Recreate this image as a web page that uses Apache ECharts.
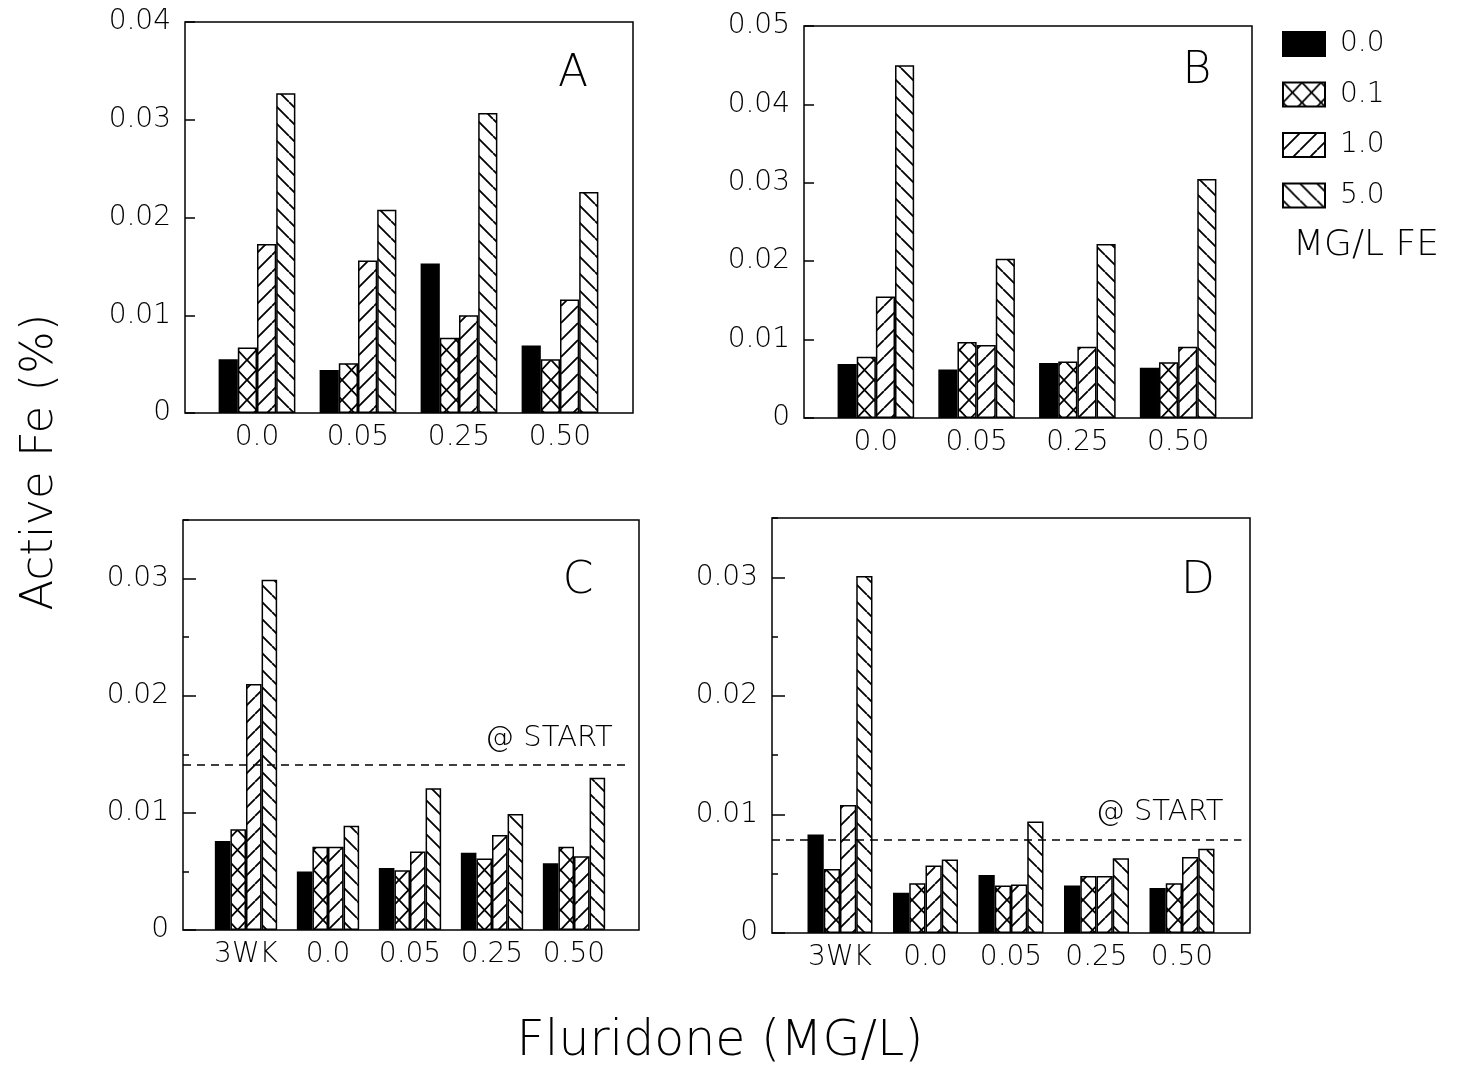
<!DOCTYPE html>
<html>
<head>
<meta charset="utf-8">
<script src="https://cdn.jsdelivr.net/npm/echarts@6/dist/echarts.min.js"></script>
<style>
html, body { margin: 0; background: #fff; }
#chart { width: 1460px; height: 1070px; }
</style>
</head>
<body>
<div id="chart"></div>
<script>
// fluridone treatments on the x axis
var fluridoneAB = ['0.0', '0.05', '0.25', '0.50'];
var fluridoneCD = ['3WK', '0.0', '0.05', '0.25', '0.50'];
// iron levels (MG/L FE), one series each
var feLevels = ['0.0', '0.1', '1.0', '5.0'];

// panel A
var a_fe00 = [0.0055, 0.0044, 0.0153, 0.0069];
var a_fe01 = [0.0067, 0.0051, 0.0077, 0.0055];
var a_fe10 = [0.0173, 0.0156, 0.0100, 0.0116];
var a_fe50 = [0.0327, 0.0208, 0.0307, 0.0226];
// panel B
var b_fe00 = [0.0069, 0.0062, 0.0070, 0.0064];
var b_fe01 = [0.0078, 0.0097, 0.0072, 0.0071];
var b_fe10 = [0.0155, 0.0093, 0.0091, 0.0091];
var b_fe50 = [0.0450, 0.0203, 0.0222, 0.0305];
// panel C
var c_fe00 = [0.0076, 0.0050, 0.0053, 0.0066, 0.0057];
var c_fe01 = [0.0086, 0.0071, 0.0051, 0.0061, 0.0071];
var c_fe10 = [0.0210, 0.0071, 0.0067, 0.0081, 0.0063];
var c_fe50 = [0.0299, 0.0089, 0.0121, 0.0099, 0.0130];
var c_start = 0.0141;
// panel D
var d_fe00 = [0.0083, 0.0034, 0.0049, 0.0040, 0.0038];
var d_fe01 = [0.0054, 0.0042, 0.0040, 0.0048, 0.0042];
var d_fe10 = [0.0108, 0.0057, 0.0041, 0.0048, 0.0064];
var d_fe50 = [0.0301, 0.0062, 0.0094, 0.0063, 0.0071];
var d_start = 0.0079;

var FONT = 'DejaVu Sans';

function hatch(kind) {
    var c = document.createElement('canvas');
    var w = kind === 'cross' ? 19 : 17;
    var h = kind === 'cross' ? 20 : 17;
    c.width = w; c.height = h;
    var g = c.getContext('2d');
    g.fillStyle = '#fff';
    g.fillRect(0, 0, w, h);
    g.strokeStyle = '#000';
    g.lineWidth = 1.8;
    g.beginPath();
    for (var k = -1; k <= 1; k++) {
        if (kind === 'fwd' || kind === 'cross') { g.moveTo(k * w, h); g.lineTo(k * w + w, 0); }
        if (kind === 'back' || kind === 'cross') { g.moveTo(k * w, 0); g.lineTo(k * w + w, h); }
    }
    g.stroke();
    return { image: c, repeat: 'repeat' };
}
var fills = ['#000', hatch('cross'), hatch('fwd'), hatch('back')];

var panels = [
    { letter: 'A', cats: fluridoneAB, vals: [a_fe00, a_fe01, a_fe10, a_fe50], max: 0.04,
      frame: [185, 22, 448, 391], inner: [206.5, 404], minor: false, tick: 10, pos: [573, 75] },
    { letter: 'B', cats: fluridoneAB, vals: [b_fe00, b_fe01, b_fe10, b_fe50], max: 0.05,
      frame: [804, 26, 448, 392], inner: [825.5, 403], minor: false, tick: 10, pos: [1197, 72] },
    { letter: 'C', cats: fluridoneCD, vals: [c_fe00, c_fe01, c_fe10, c_fe50], max: 0.035, start: c_start,
      frame: [183, 520, 456, 410], inner: [205, 410], minor: true, tick: 13, pos: [578, 582] },
    { letter: 'D', cats: fluridoneCD, vals: [d_fe00, d_fe01, d_fe10, d_fe50], max: 0.035, start: d_start,
      frame: [772, 518, 478, 415], inner: [797.25, 427.5], minor: true, tick: 13, pos: [1198, 582] }
];

var grids = [], xAxes = [], yAxes = [], series = [], graphics = [];

panels.forEach(function (p) {
    var og = grids.length;
    grids.push({ left: p.frame[0], top: p.frame[1], width: p.frame[2], height: p.frame[3],
                 show: true, borderColor: '#000', borderWidth: 1.5, backgroundColor: 'transparent' });
    grids.push({ left: p.inner[0], top: p.frame[1], width: p.inner[1], height: p.frame[3] });

    var ox = xAxes.length;
    xAxes.push({ type: 'value', gridIndex: og, min: 0, max: 1, show: false });
    var ix = xAxes.length;
    xAxes.push({
        type: 'category', gridIndex: og + 1, data: p.cats,
        axisLine: { show: false }, axisTick: { show: false },
        axisLabel: { interval: 0, color: '#000', fontFamily: FONT, fontWeight: 200, fontSize: 28, margin: 11 }
    });

    var oy = yAxes.length;
    yAxes.push({
        type: 'value', gridIndex: og, position: 'left', min: 0, max: p.max, interval: 0.01,
        axisLine: { show: false }, splitLine: { show: false },
        axisTick: { show: true, inside: true, length: p.tick, lineStyle: { color: '#000', width: 1.5 } },
        axisLabel: { color: '#000', fontFamily: FONT, fontWeight: 200, fontSize: 28, margin: 14,
                     showMaxLabel: !p.minor,
                     formatter: function (v) { return v === 0 ? '0' : v.toFixed(2); } }
    });
    var iy = yAxes.length;
    yAxes.push({ type: 'value', gridIndex: og + 1, min: 0, max: p.max, show: false });
    if (p.minor) {
        yAxes.push({
            type: 'value', gridIndex: og, position: 'left', min: 0, max: p.max, interval: 0.005,
            axisLine: { show: false }, splitLine: { show: false }, axisLabel: { show: false },
            axisTick: { show: true, inside: true, length: 6, lineStyle: { color: '#000', width: 1.5 } }
        });
    }

    p.vals.forEach(function (vals, j) {
        series.push({
            name: feLevels[j], type: 'bar', xAxisIndex: ix, yAxisIndex: iy, data: vals,
            barGap: '0%', barCategoryGap: '24%',
            itemStyle: { color: fills[j], borderColor: '#000', borderWidth: 1.5 },
            emphasis: { disabled: true }
        });
    });

    if (p.start !== undefined) {
        series.push({
            type: 'line', xAxisIndex: ox, yAxisIndex: oy, data: [], silent: true, symbol: 'none',
            markLine: {
                silent: true, symbol: 'none',
                lineStyle: { type: [8, 6], color: '#000', width: 1.5 },
                label: { show: true, formatter: '@ START', position: 'insideEndTop', distance: [18, 12],
                         color: '#000', fontFamily: FONT, fontWeight: 200, fontSize: 29 },
                data: [[{ coord: [0, p.start] }, { coord: [0.982, p.start] }]]
            }
        });
    }

    graphics.push({ type: 'text', x: p.pos[0], y: p.pos[1],
                    style: { text: p.letter, font: '200 44px "DejaVu Sans"', fill: '#000',
                             textAlign: 'center', textVerticalAlign: 'middle' } });
});

graphics.push({ type: 'text', x: 40, y: 462, rotation: Math.PI / 2,
                style: { text: 'Active Fe (%)', font: '200 45px "DejaVu Sans"', fill: '#000',
                         textAlign: 'center', textVerticalAlign: 'middle' } });
graphics.push({ type: 'text', x: 720, y: 1042,
                style: { text: 'Fluridone (MG/L)', font: '200 49px "DejaVu Sans"', fill: '#000',
                         textAlign: 'center', textVerticalAlign: 'middle' } });
graphics.push({ type: 'text', x: 1366, y: 246,
                style: { text: 'MG/L FE', font: '200 36px "DejaVu Sans"', fill: '#000',
                         textAlign: 'center', textVerticalAlign: 'middle' } });

var chart = echarts.init(document.getElementById('chart'));
chart.setOption({
    animation: false,
    backgroundColor: '#fff',
    textStyle: { fontFamily: FONT },
    legend: {
        data: feLevels, orient: 'vertical', left: 1277, top: 25, padding: 5,
        itemWidth: 42, itemHeight: 24, itemGap: 22.5, icon: 'rect', selectedMode: false,
        textStyle: { color: '#000', fontFamily: FONT, fontWeight: 200, fontSize: 28, padding: [0, 0, 0, 10] }
    },
    grid: grids,
    xAxis: xAxes,
    yAxis: yAxes,
    series: series,
    graphic: graphics
});
</script>
</body>
</html>
